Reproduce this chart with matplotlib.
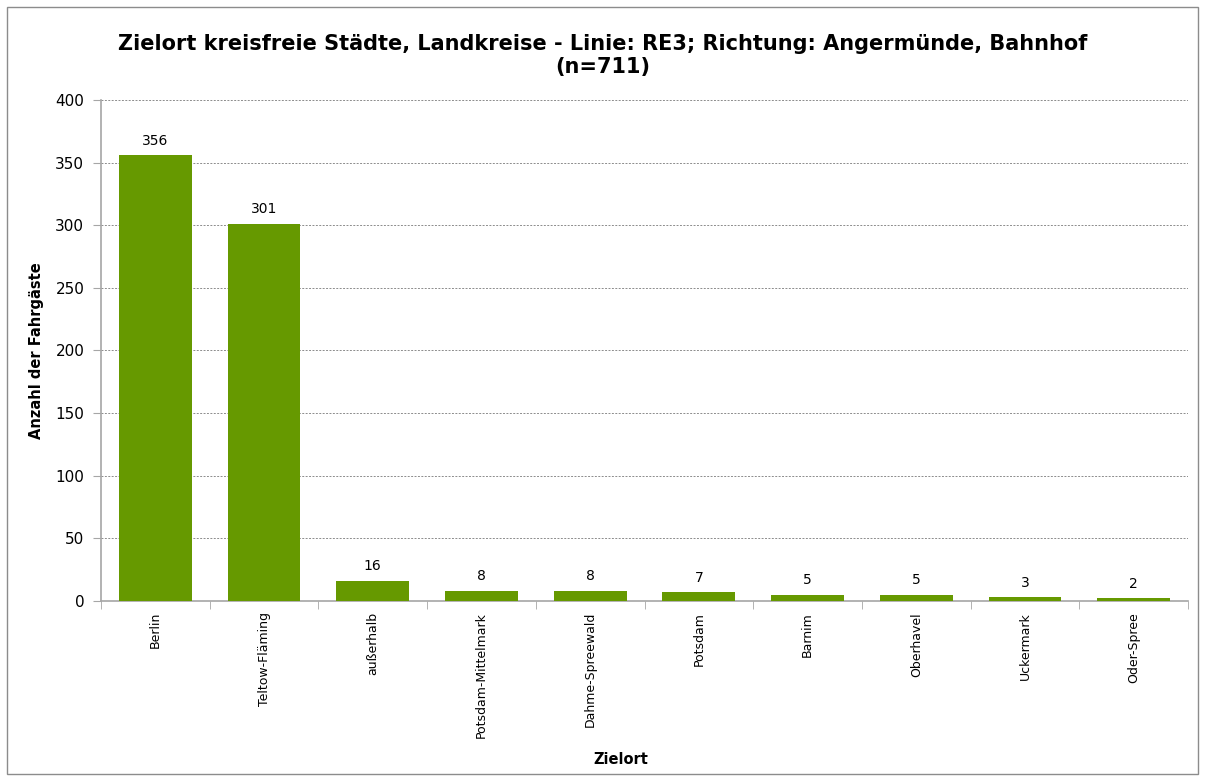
import matplotlib.pyplot as plt
from matplotlib.patches import Rectangle

# data
categories = ['Berlin', 'Teltow-Fläming', 'außerhalb', 'Potsdam-Mittelmark', 'Dahme-Spreewald',
              'Potsdam', 'Barnim', 'Oberhavel', 'Uckermark', 'Oder-Spree']
values = [356, 301, 16, 8, 8, 7, 5, 5, 3, 2]
yticks = [0, 50, 100, 150, 200, 250, 300, 350, 400]

title = 'Zielort kreisfreie Städte, Landkreise - Linie: RE3; Richtung: Angermünde, Bahnhof\n(n=711)'

plt.rcParams['font.family'] = ['DejaVu Sans']
fig = plt.figure(figsize=(12.05, 7.81), dpi=100)
ax = fig.add_axes([0.0838, 0.2305, 0.9022, 0.6415])

x = range(len(categories))
ax.bar(x, values, width=0.67, color='#669900', zorder=3)
for xi, v in zip(x, values):
    ax.text(xi, v + 6, str(v), ha='center', va='bottom', fontsize=10)

ax.set_xlim(-0.5, len(categories) - 0.5)
ax.set_ylim(0, 400)
ax.set_yticks(yticks)
ax.set_yticklabels([str(t) for t in yticks], fontsize=11)
ax.yaxis.grid(True, linestyle=(0, (2, 1.5)), color='#8c8c8c', linewidth=0.7, zorder=0)

ax.set_xticks(list(x))
ax.set_xticklabels(categories, rotation=90, fontsize=9)
ax.tick_params(axis='x', length=0, pad=8)
ax.set_xticks([i - 0.5 for i in range(len(categories) + 1)], minor=True)
ax.tick_params(axis='x', which='minor', length=6, color='#a6a6a6', direction='out')
ax.tick_params(axis='y', length=6, color='#a6a6a6', direction='out', pad=6)

for s in ['top', 'right']:
    ax.spines[s].set_visible(False)
for s in ['left', 'bottom']:
    ax.spines[s].set_color('#a6a6a6')
    ax.spines[s].set_linewidth(1.2)

ax.set_ylabel('Anzahl der Fahrgäste', fontsize=10.5, fontweight='bold', labelpad=8)
fig.text(0.515, 0.027, 'Zielort', ha='center', va='center', fontsize=10.5, fontweight='bold')
fig.text(0.5, 0.929, title, ha='center', va='center', fontsize=15, fontweight='bold',
         linespacing=1.2)

fig.patches.append(Rectangle((0.006, 0.009), 0.988, 0.982, transform=fig.transFigure,
                             fill=False, edgecolor='#8c8c8c', linewidth=1))

fig.savefig('out.png', dpi=100)
